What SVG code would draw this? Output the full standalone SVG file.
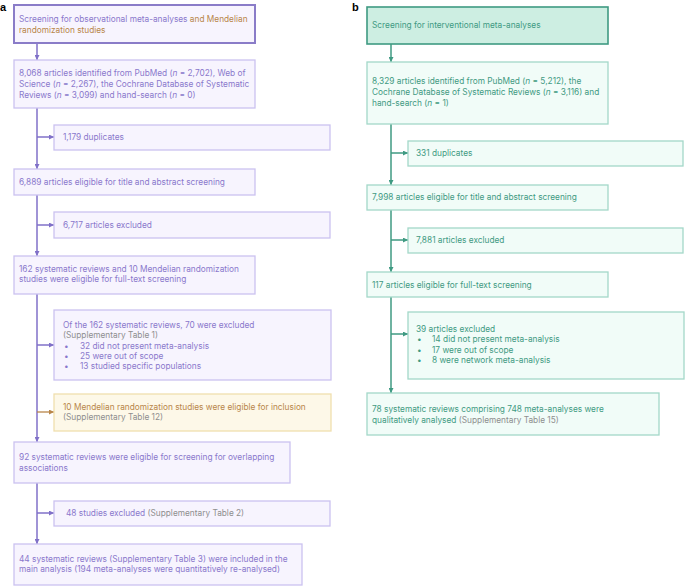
<svg xmlns="http://www.w3.org/2000/svg" width="685" height="586" viewBox="0 0 685 586">
<defs>
<marker id="ap" viewBox="0 0 6 6" refX="6" refY="3" markerWidth="5" markerHeight="5" orient="auto" markerUnits="userSpaceOnUse"><path d="M0,0 L6,3 L0,6 z" fill="#8070c8"/></marker>
<marker id="ag" viewBox="0 0 6 6" refX="6" refY="3" markerWidth="5" markerHeight="5" orient="auto" markerUnits="userSpaceOnUse"><path d="M0,0 L6,3 L0,6 z" fill="#b8864a"/></marker>
<marker id="at" viewBox="0 0 6 6" refX="6" refY="3" markerWidth="5" markerHeight="5" orient="auto" markerUnits="userSpaceOnUse"><path d="M0,0 L6,3 L0,6 z" fill="#3f9a82"/></marker>
</defs>
<style>
text{font-family:Inter,"Liberation Sans",sans-serif;font-size:8.3px}
.lbl{font-family:"Liberation Sans",Arial,sans-serif;font-weight:bold;font-size:11px;fill:#000}
.pb{fill:#f7f4fe;stroke:#cbc2f0;stroke-width:1.3}
.pbh{fill:#f7f4fe;stroke:#8a7cc8;stroke-width:2}
.pt{fill:#8a78cc}
.gb{fill:#fdf8e8;stroke:#f0dfae;stroke-width:1.3}
.gt{fill:#b8864a}
.gr{fill:#8e8e8e}
.tb{fill:#f1fcf8;stroke:#a3d8c8;stroke-width:1.3}
.tbh{fill:#cdeee2;stroke:#3f9a82;stroke-width:1.6}
.tt{fill:#3f9a82}
.lp{stroke:#8070c8;stroke-width:1.5;fill:none}
.lg{stroke:#b8864a;stroke-width:1.3;fill:none}
.lt{stroke:#3f9a82;stroke-width:1.5;fill:none}
</style>
<text class="lbl" x="0" y="11">a</text>
<text class="lbl" x="352" y="11">b</text>
<g id="connectors">
<line class="lp" x1="37" y1="43" x2="37" y2="60" marker-end="url(#ap)"/>
<line class="lp" x1="37" y1="108" x2="37" y2="169" marker-end="url(#ap)"/>
<line class="lp" x1="37" y1="137" x2="54" y2="137" marker-end="url(#ap)"/>
<line class="lp" x1="37" y1="195" x2="37" y2="256" marker-end="url(#ap)"/>
<line class="lp" x1="37" y1="225" x2="54" y2="225" marker-end="url(#ap)"/>
<line class="lp" x1="37" y1="294" x2="37" y2="442" marker-end="url(#ap)"/>
<line class="lp" x1="37" y1="345" x2="54" y2="345" marker-end="url(#ap)"/>
<line class="lg" x1="37" y1="412" x2="54" y2="412" marker-end="url(#ag)"/>
<line class="lp" x1="37" y1="483" x2="37" y2="544" marker-end="url(#ap)"/>
<line class="lp" x1="37" y1="513" x2="54" y2="513" marker-end="url(#ap)"/>
<line class="lt" x1="391" y1="44" x2="391" y2="62" marker-end="url(#at)"/>
<line class="lt" x1="391" y1="124" x2="391" y2="185" marker-end="url(#at)"/>
<line class="lt" x1="391" y1="153" x2="408" y2="153" marker-end="url(#at)"/>
<line class="lt" x1="391" y1="210" x2="391" y2="272" marker-end="url(#at)"/>
<line class="lt" x1="391" y1="240" x2="408" y2="240" marker-end="url(#at)"/>
<line class="lt" x1="391" y1="297" x2="391" y2="393" marker-end="url(#at)"/>
<line class="lt" x1="391" y1="334" x2="408" y2="334" marker-end="url(#at)"/>
</g>
<g id="a1"><rect class="pbh" x="14" y="5" width="241" height="38"/>
<text x="19" y="22"><tspan class="pt">Screening for observational meta-analyses </tspan><tspan class="gt">and Mendelian</tspan></text>
<text x="19" y="33" class="gt">randomization studies</text></g>
<g id="a2"><rect class="pb" x="14" y="60" width="241" height="48"/>
<text class="pt" x="19" y="76">8,068 articles identified from PubMed (<tspan font-style="italic">n</tspan> = 2,702), Web of</text>
<text class="pt" x="19" y="87">Science (<tspan font-style="italic">n</tspan> = 2,267), the Cochrane Database of Systematic</text>
<text class="pt" x="19" y="98">Reviews (<tspan font-style="italic">n</tspan> = 3,099) and hand-search (<tspan font-style="italic">n</tspan> = 0)</text></g>
<g id="a3"><rect class="pb" x="54" y="125" width="276" height="25"/>
<text class="pt" x="63" y="140">1,179 duplicates</text></g>
<g id="a4"><rect class="pb" x="14" y="169" width="241" height="26"/>
<text class="pt" x="19" y="185">6,889 articles eligible for title and abstract screening</text></g>
<g id="a5"><rect class="pb" x="54" y="212" width="276" height="26"/>
<text class="pt" x="63" y="228">6,717 articles excluded</text></g>
<g id="a6"><rect class="pb" x="14" y="256" width="241" height="38"/>
<text class="pt" x="19" y="272">162 systematic reviews and 10 Mendelian randomization</text>
<text class="pt" x="19" y="282">studies were eligible for full-text screening</text></g>
<g id="a7"><rect class="pb" x="54" y="310" width="277" height="70"/>
<text class="pt" x="63" y="328">Of the 162 systematic reviews, 70 were excluded</text>
<text class="gr" x="63" y="338">(Supplementary Table 1)</text>
<text class="pt" x="64" y="349">•</text><text class="pt" x="80" y="349">32 did not present meta-analysis</text>
<text class="pt" x="64" y="359">•</text><text class="pt" x="80" y="359">25 were out of scope</text>
<text class="pt" x="64" y="369">•</text><text class="pt" x="80" y="369">13 studied specific populations</text></g>
<g id="a8"><rect class="gb" x="54" y="394" width="277" height="37"/>
<text class="gt" x="63" y="410">10 Mendelian randomization studies were eligible for inclusion</text>
<text class="gr" x="63" y="420">(Supplementary Table 12)</text></g>
<g id="a9"><rect class="pb" x="14" y="442" width="276" height="41"/>
<text class="pt" x="19" y="460">92 systematic reviews were eligible for screening for overlapping</text>
<text class="pt" x="19" y="471">associations</text></g>
<g id="a10"><rect class="pb" x="54" y="501" width="276" height="25"/>
<text x="66" y="516"><tspan class="pt">48 studies excluded </tspan><tspan class="gr">(Supplementary Table 2)</tspan></text></g>
<g id="a11"><rect class="pb" x="14" y="544" width="288" height="41"/>
<text class="pt" x="19" y="562">44 systematic reviews (Supplementary Table 3) were included in the</text>
<text class="pt" x="19" y="572">main analysis (194 meta-analyses were quantitatively re-analysed)</text></g>
<g id="b1"><rect class="tbh" x="367" y="7" width="241" height="37"/>
<text class="tt" x="372" y="28">Screening for interventional meta-analyses</text></g>
<g id="b2"><rect class="tb" x="367" y="62" width="241" height="62"/>
<text class="tt" x="372" y="84">8,329 articles identified from PubMed (<tspan font-style="italic">n</tspan> = 5,212), the</text>
<text class="tt" x="372" y="95">Cochrane Database of Systematic Reviews (<tspan font-style="italic">n</tspan> = 3,116) and</text>
<text class="tt" x="372" y="106">hand-search (<tspan font-style="italic">n</tspan> = 1)</text></g>
<g id="b3"><rect class="tb" x="408" y="141" width="275" height="25"/>
<text class="tt" x="416" y="156">331 duplicates</text></g>
<g id="b4"><rect class="tb" x="367" y="185" width="241" height="25"/>
<text class="tt" x="372" y="200">7,998 articles eligible for title and abstract screening</text></g>
<g id="b5"><rect class="tb" x="408" y="228" width="275" height="25"/>
<text class="tt" x="416" y="243">7,881 articles excluded</text></g>
<g id="b6"><rect class="tb" x="367" y="272" width="241" height="25"/>
<text class="tt" x="372" y="288">117 articles eligible for full-text screening</text></g>
<g id="b7"><rect class="tb" x="408" y="312" width="276" height="67"/>
<text class="tt" x="416" y="332">39 articles excluded</text>
<text class="tt" x="417" y="342">•</text><text class="tt" x="432" y="342">14 did not present meta-analysis</text>
<text class="tt" x="417" y="353">•</text><text class="tt" x="432" y="353">17 were out of scope</text>
<text class="tt" x="417" y="363">•</text><text class="tt" x="432" y="363">8 were network meta-analysis</text></g>
<g id="b8"><rect class="tb" x="367" y="393" width="292" height="42"/>
<text class="tt" x="372" y="412">78 systematic reviews comprising 748 meta-analyses were</text>
<text x="372" y="423"><tspan class="tt">qualitatively analysed </tspan><tspan class="gr">(Supplementary Table 15)</tspan></text></g>
</svg>
